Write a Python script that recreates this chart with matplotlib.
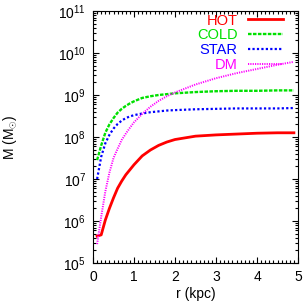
import numpy as np
import matplotlib.pyplot as plt
from matplotlib.ticker import LogLocator, MultipleLocator, NullFormatter

plt.rcParams['font.family'] = ['Liberation Sans', 'DejaVu Sans']
plt.rcParams['mathtext.fontset'] = 'custom'
plt.rcParams['mathtext.rm'] = 'Liberation Sans'
plt.rcParams['mathtext.it'] = 'Liberation Sans'

# radius (kpc) and log10 of enclosed mass
r = [0.1, 0.2, 0.3, 0.4, 0.5, 0.6, 0.7, 0.8, 0.9, 1.0, 1.2, 1.4, 1.6, 1.8,
     2.0, 2.5, 3.0, 3.5, 4.0, 4.5, 4.9]
log_hot = [5.64, 5.67, 6.02, 6.3, 6.55, 6.78, 6.95, 7.1, 7.22, 7.34, 7.55, 7.69,
           7.8, 7.88, 7.94, 8.02, 8.05, 8.07, 8.09, 8.1, 8.1]
log_cold = [7.45, 7.8, 8.1, 8.3, 8.45, 8.58, 8.67, 8.74, 8.8, 8.85, 8.93,
            8.97, 9.0, 9.02, 9.04, 9.07, 9.09, 9.1, 9.1, 9.11, 9.11]
log_star = [7.0, 7.53, 7.85, 8.05, 8.2, 8.31, 8.39, 8.45, 8.49, 8.52, 8.56,
            8.59, 8.61, 8.63, 8.64, 8.66, 8.67, 8.68, 8.68, 8.68, 8.69]
log_dm = [5.45, 6.1, 6.7, 7.15, 7.5, 7.72, 7.93, 8.08, 8.22, 8.35, 8.55,
          8.72, 8.86, 8.97, 9.06, 9.25, 9.4, 9.52, 9.62, 9.72, 9.79]

labels = ['HOT', 'COLD', 'STAR', 'DM']
colors = ['#ff0000', '#00e000', '#0000ff', '#ff00ff']

fig = plt.figure(figsize=(3.05, 3.08), dpi=100)
ax = fig.add_axes([93/305, 45/308, 205/305, 252/308])

r = np.array(r)
ax.plot(r, 10**np.array(log_hot), color=colors[0], lw=2.0, ls='-', label=labels[0])
ax.plot(r, 10**np.array(log_cold), color=colors[1], lw=1.7, ls=(0, (1.5, 0.6)), label=labels[1])
ax.plot(r, 10**np.array(log_star), color=colors[2], lw=1.6, ls=(0, (1, 1)), label=labels[2])
ax.plot(r, 10**np.array(log_dm), color=colors[3], lw=1.4, ls=(0, (0.6, 0.6)), label=labels[3])

ax.set_yscale('log')
ax.set_xlim(0, 5)
ax.set_ylim(1e5, 1e11)
ax.xaxis.set_major_locator(MultipleLocator(1))
ax.xaxis.set_minor_locator(MultipleLocator(0.1))
ax.yaxis.set_major_locator(LogLocator(base=10, numticks=10))
ax.yaxis.set_minor_locator(LogLocator(base=10, subs=np.arange(2, 10), numticks=20))
ax.yaxis.set_minor_formatter(NullFormatter())
ax.tick_params(which='both', direction='in', top=True, right=True, labelsize=10,
               width=0.8)
ax.tick_params(which='major', length=4, pad=5)
ax.tick_params(which='minor', length=2)

ax.set_xlabel('r (kpc)', fontsize=10, labelpad=2)
ax.set_ylabel(r'M (M$_{\odot}$)', fontsize=10)
ax.yaxis.set_label_coords(-0.36, 0.5)

leg = ax.legend(loc='upper right', bbox_to_anchor=(0.927, 0.99), frameon=False,
                markerfirst=False, fontsize=10.5, handlelength=2.4,
                labelspacing=0.05, borderaxespad=0, borderpad=0,
                handletextpad=0.7, labelcolor='linecolor')

fig.savefig('out.png', dpi=100)
